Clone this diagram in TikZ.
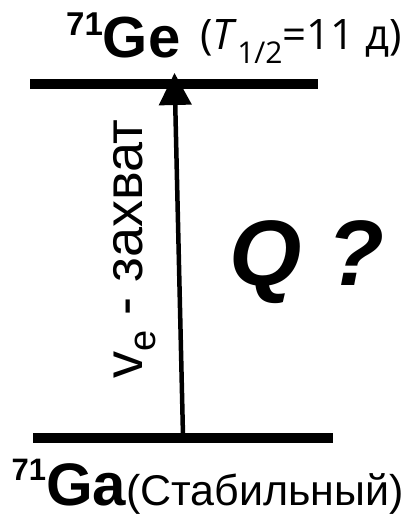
\documentclass[tikz,border=0pt]{standalone}
\usepackage{fontspec}
\setmainfont{Liberation Sans}
\newfontfamily\opensans{Open Sans}
\usetikzlibrary{arrows.meta}

\begin{document}
\begin{tikzpicture}[
  x=1pt, y=-1pt,
  level/.style={line width=10pt},
  lbl/.style={inner sep=0pt, anchor=base west},
  arrow/.style={-{Triangle[width=32pt,length=32pt]}, line width=4.5pt}
]
\useasboundingbox (0,0) rectangle (413,517);

% energy levels
\coordinate (ge-l) at (30,84);
\coordinate (ge-r) at (318,84);
\coordinate (ga-l) at (33,438);
\coordinate (ga-r) at (333,438);
\draw[level] (ge-l) -- (ge-r);
\draw[level] (ga-l) -- (ga-r);

% capture transition
\coordinate (ga-arr) at (183,436);
\coordinate (ge-arr) at (174.5,73);
\draw[arrow] (ga-arr) -- (ge-arr);

\node[lbl] (ge) at (66,57)
  {\bfseries\raisebox{22pt}{\fontsize{33}{33}\selectfont 71}\fontsize{58}{58}\selectfont Ge};
\node[lbl] (ge-half) at (200,49)
  {\opensans\fontsize{42}{42}\selectfont(\textit{T}\raisebox{-14pt}{\fontsize{30}{30}\selectfont 1/2}=11 д)};

\node[lbl, rotate=90] (capture) at (142,379)
  {\fontsize{54}{54}\selectfont v\raisebox{-13pt}{\fontsize{38}{38}\selectfont e} - захват};

\node[lbl] (q) at (229,285)
  {\fontsize{93}{93}\selectfont\bfseries\itshape Q ?};

\node[lbl] (ga) at (11.5,505)
  {\bfseries\raisebox{25pt}{\fontsize{31}{31}\selectfont 71}\fontsize{60}{60}\selectfont Ga\mdseries\fontsize{43}{43}\selectfont(Стабильный)};

\end{tikzpicture}
\end{document}
